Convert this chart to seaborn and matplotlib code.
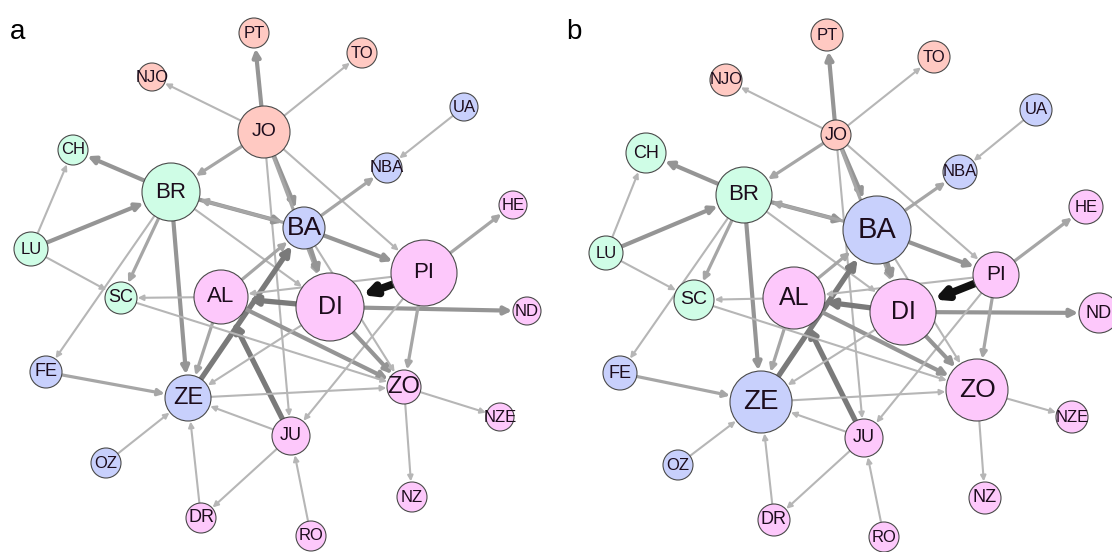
import matplotlib
matplotlib.use("Agg")
import matplotlib.pyplot as plt
import numpy as np
import pandas as pd
import seaborn as sns

sns.set_style("white")
plt.rcParams['font.family'] = ['Liberation Sans', 'DejaVu Sans']

# node names and community
nodes = ["PT", "TO", "NJO", "JO", "UA", "CH", "NBA", "BR", "HE", "BA", "LU", "PI", "SC",
         "AL", "DI", "ND", "FE", "ZE", "ZO", "NZE", "JU", "OZ", "NZ", "DR", "RO"]
groups = ["jo", "jo", "jo", "jo", "blue", "green", "blue", "green", "pink", "blue", "green", "pink", "green",
          "pink", "pink", "pink", "blue", "blue", "pink", "pink", "pink", "blue", "pink", "pink", "pink"]

# layout (panel a)
x_a = [254, 362, 152, 264, 464, 73, 387, 171, 513, 304, 31, 424, 121,
       221, 330, 527, 46, 188, 404, 500, 291, 106, 412, 201, 311]
y_a = [33, 53, 77, 132, 107, 150, 168, 192, 205, 228, 249, 273, 298,
       297, 307, 311, 372, 398, 387, 417, 436, 463, 497, 518, 536]
r_a = [15, 15, 14, 26, 14, 15, 15, 29, 14, 21, 17, 33, 16,
       27, 34, 14, 16, 23, 17, 14, 19, 15, 15, 15, 15]
lab_a = [12, 12, 12, 14, 12, 12, 12, 16, 12, 19, 12, 16, 13,
         16, 18, 12, 13, 17, 17, 12, 13, 12, 12, 13, 12]

# layout (panel b)
x_b = [271, 378, 170, 280, 480, 90, 404, 188, 530, 321, 50, 440, 138,
       238, 347, 543, 64, 205, 421, 516, 308, 122, 429, 218, 328]
y_b = [35, 57, 80, 135, 110, 153, 172, 195, 207, 230, 253, 275, 300,
       298, 312, 313, 373, 402, 390, 417, 438, 465, 498, 520, 537]
r_b = [16, 16, 16, 15, 16, 20, 17, 28, 17, 34, 17, 23, 20,
       31, 33, 20, 17, 31, 31, 16, 19, 15, 16, 16, 15]
lab_b = [12, 12, 12, 13, 12, 13, 12, 16, 12, 21, 12, 15, 14,
         18, 18, 13, 13, 20, 19, 12, 13, 12, 13, 13, 12]

# directed edges with strength class in each panel
edge_src = ["JO", "JO", "JO", "JO", "JO", "JO", "JO", "JO", "BR", "LU", "LU", "LU", "BR", "BR", "BR",
            "BR", "BA", "BR", "BA", "BA", "BA", "UA", "AL", "ZE", "AL", "DI", "AL", "AL", "PI", "DI",
            "PI", "PI", "PI", "PI", "JU", "ZE", "FE", "OZ", "DR", "JU", "JU", "RO", "ZO", "ZO", "DI",
            "DI", "SC", "BA"]
edge_dst = ["PT", "TO", "NJO", "BR", "BA", "PI", "JU", "DI", "CH", "CH", "BR", "SC", "SC", "FE", "ZE",
            "BA", "BR", "DI", "PI", "DI", "NBA", "NBA", "BA", "BA", "ZE", "AL", "ZO", "SC", "DI", "ND",
            "HE", "ZO", "JU", "AL", "AL", "ZO", "ZE", "ZE", "ZE", "ZE", "DR", "JU", "NZ", "NZE", "ZO",
            "ZE", "ZO", "ZO"]
edge_w_a = [3, 1, 1, 2, 3, 1, 1, 2, 3, 1, 3, 1, 2, 1, 3,
            3, 2, 1, 3, 3, 2, 1, 2, 4, 2, 4, 3, 1, 5, 3,
            2, 2, 1, 1, 4, 1, 2, 1, 1, 1, 1, 1, 1, 1, 3,
            1, 1, 1]
edge_w_b = [3, 1, 1, 2, 3, 1, 1, 2, 3, 1, 3, 1, 2, 1, 3,
            3, 2, 1, 3, 3, 2, 1, 2, 4, 2, 4, 3, 1, 5, 3,
            2, 2, 1, 1, 4, 1, 2, 1, 1, 1, 1, 1, 1, 1, 3,
            1, 1, 1]

palette = {"jo": "#ffc9c2", "green": "#cffde6", "blue": "#c8d0fc", "pink": "#fdc8fb"}
edge_style = {1: (1.5, "#b6b6b6"), 2: (2.3, "#a6a6a6"), 3: (3.0, "#959595"),
              4: (3.8, "#7a7a7a"), 5: (5.5, "#111111")}

fig = plt.figure(figsize=(11.12, 5.52), dpi=100)
ax_a = fig.add_axes([0, 0, 0.5, 1])
ax_b = fig.add_axes([0.5, 0, 0.5, 1])


def draw_panel(ax, xs, ys, rs, labs, weights, tag):
    df = pd.DataFrame({"node": nodes, "group": groups, "x": xs, "y": ys, "r": rs, "lab": labs})
    df["s"] = (1.44 * df["r"]) ** 2
    pos = df.set_index("node")
    ax.set_xlim(0, 556)
    ax.set_ylim(552, 0)
    ax.axis("off")

    for s, d, w in zip(edge_src, edge_dst, weights):
        lw, col = edge_style[w]
        ax.annotate("", xy=(pos.at[d, "x"], pos.at[d, "y"]),
                    xytext=(pos.at[s, "x"], pos.at[s, "y"]),
                    arrowprops=dict(arrowstyle="-|>", lw=lw, color=col,
                                    shrinkA=pos.at[s, "r"] * 0.72,
                                    shrinkB=pos.at[d, "r"] * 0.72 + 0.5,
                                    mutation_scale=5 + 2.0 * lw),
                    zorder=1)

    smin, smax = df["s"].min(), df["s"].max()
    sns.scatterplot(data=df, x="x", y="y", hue="group", palette=palette,
                    size="s", sizes=(smin, smax), size_norm=(smin, smax),
                    edgecolor="#4a4a4a", linewidth=0.8, alpha=1, legend=False,
                    ax=ax, zorder=2)
    for _, row in df.iterrows():
        ax.text(row["x"], row["y"], row["node"], ha="center", va="center",
                fontsize=row["lab"], color="#1c0c1c", zorder=3)
    ax.set_xlabel("")
    ax.set_ylabel("")
    ax.text(10, 32, tag, fontsize=20, color="black", va="center", ha="left")


draw_panel(ax_a, x_a, y_a, r_a, lab_a, edge_w_a, "a")
draw_panel(ax_b, x_b, y_b, r_b, lab_b, edge_w_b, "b")

fig.savefig("out.png", dpi=100)
